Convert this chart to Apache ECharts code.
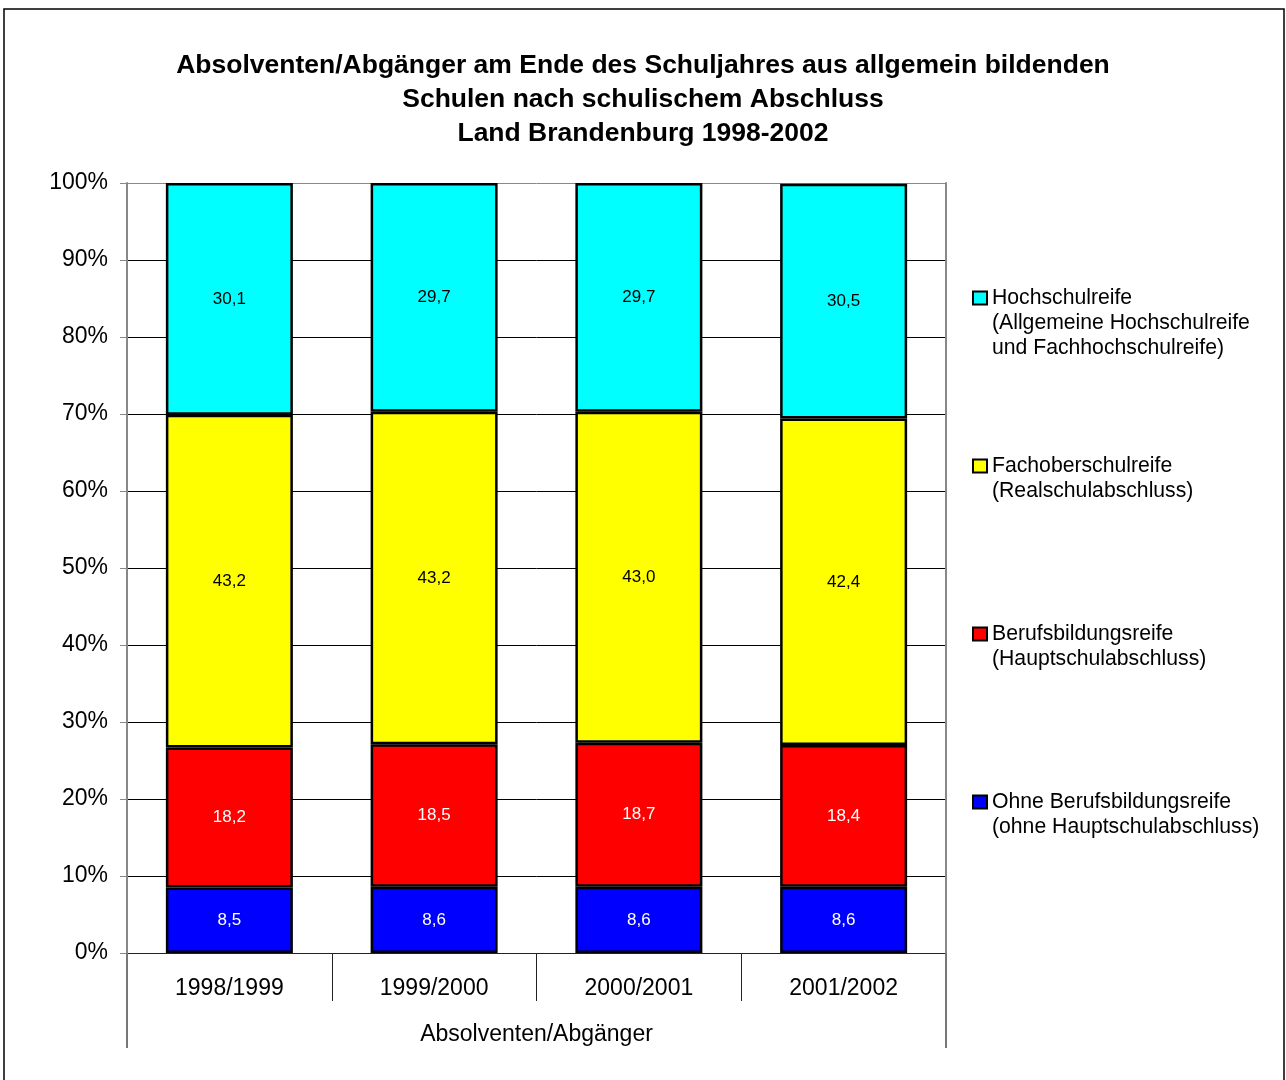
<!DOCTYPE html>
<html>
<head>
<meta charset="utf-8">
<script src="https://cdn.jsdelivr.net/npm/echarts@6/dist/echarts.min.js"></script>
<style>
  html, body { margin: 0; padding: 0; background: #fff; }
  #main { width: 1286px; height: 1080px; }
</style>
</head>
<body>
<div id="main"></div>
<script>
  var years = ['1998/1999', '1999/2000', '2000/2001', '2001/2002']
  var groupLabel = ['Absolventen/Abgänger']
  var ohne = [8.5, 8.6, 8.6, 8.6]
  var berufs = [18.2, 18.5, 18.7, 18.4]
  var fachober = [43.2, 43.2, 43.0, 42.4]
  var hoch = [30.1, 29.7, 29.7, 30.5]

  var legendText = {
    'Hochschulreife': 'Hochschulreife\n(Allgemeine Hochschulreife\nund Fachhochschulreife)',
    'Fachoberschulreife': 'Fachoberschulreife\n(Realschulabschluss)',
    'Berufsbildungsreife': 'Berufsbildungsreife\n(Hauptschulabschluss)',
    'Ohne Berufsbildungsreife': 'Ohne Berufsbildungsreife\n(ohne Hauptschulabschluss)'
  }
  var font = 'Liberation Sans, Arial, sans-serif'

  function fmt (p) {
    return p.value.toFixed(1).replace('.', ',')
  }

  function bar (name, data, color, labelColor) {
    return {
      name: name,
      type: 'bar',
      stack: 'all',
      barWidth: 127,
      data: data,
      itemStyle: { color: color, borderColor: '#000', borderWidth: 2.5 },
      label: {
        show: true,
        position: 'inside',
        formatter: fmt,
        color: labelColor,
        fontFamily: font,
        fontSize: 17
      }
    }
  }

  // one legend per entry; blank lines on top keep the icon on the first text line
  function legend (name, lines, top) {
    return {
      data: [{ name: name, icon: 'rect' }],
      left: 972,
      top: top,
      padding: 0,
      itemWidth: 14,
      itemHeight: 13,
      itemGap: 5,
      selectedMode: false,
      itemStyle: { borderWidth: 2 },
      formatter: function (n) {
        var pad = ''
        for (var j = 1; j < lines; j++) pad += ' \n'
        return pad + legendText[n]
      },
      textStyle: {
        fontFamily: font,
        fontSize: 21.2,
        lineHeight: 25,
        color: '#000'
      }
    }
  }

  var gridLineColors = []
  for (var i = 0; i < 10; i++) gridLineColors.push('#000')
  gridLineColors.push('#888')

  var option = {
    backgroundColor: '#fff',
    animation: false,
    title: {
      text: 'Absolventen/Abgänger am Ende des Schuljahres aus allgemein bildenden\nSchulen nach schulischem Abschluss\nLand Brandenburg 1998-2002',
      left: 'center',
      top: 44,
      textStyle: {
        fontFamily: font,
        fontSize: 26.5,
        fontWeight: 'bold',
        lineHeight: 34,
        color: '#000',
        align: 'center'
      }
    },
    legend: [
      legend('Hochschulreife', 3, 298 - 62.5),
      legend('Fachoberschulreife', 2, 466 - 37.5),
      legend('Berufsbildungsreife', 2, 634 - 37.5),
      legend('Ohne Berufsbildungsreife', 2, 802 - 37.5)
    ],
    grid: { left: 127, right: 340, top: 183, bottom: 127 },
    xAxis: [
      {
        type: 'category',
        position: 'bottom',
        data: years,
        axisLine: { lineStyle: { color: '#222', width: 1 } },
        axisTick: { show: true, length: 48, interval: 0, lineStyle: { color: '#222', width: 1 } },
        axisLabel: { margin: 24, color: '#000', fontFamily: font, fontSize: 23 }
      },
      {
        type: 'category',
        position: 'bottom',
        data: groupLabel,
        axisLine: { show: false },
        axisTick: { show: true, length: 95, lineStyle: { color: '#777', width: 2 } },
        axisLabel: { margin: 70, color: '#000', fontFamily: font, fontSize: 23 }
      }
    ],
    yAxis: [
      {
        type: 'value',
        min: 0,
        max: 100,
        interval: 10,
        axisLine: { show: true, lineStyle: { color: '#888', width: 2 } },
        axisTick: { show: true, length: 7, lineStyle: { color: '#888', width: 1 } },
        axisLabel: { formatter: '{value}%', margin: 19, padding: [4, 0, 0, 0], color: '#000', fontFamily: font, fontSize: 23 },
        splitLine: { show: true, lineStyle: { color: gridLineColors, width: 1 } }
      },
      {
        type: 'value',
        position: 'right',
        min: 0,
        max: 100,
        interval: 10,
        axisLine: { show: true, lineStyle: { color: '#888', width: 2 } },
        axisTick: { show: false },
        axisLabel: { show: false },
        splitLine: { show: false }
      }
    ],
    series: [
      bar('Ohne Berufsbildungsreife', ohne, '#0000ff', '#fff'),
      bar('Berufsbildungsreife', berufs, '#ff0000', '#fff'),
      bar('Fachoberschulreife', fachober, '#ffff00', '#000'),
      bar('Hochschulreife', hoch, '#00ffff', '#000')
    ],
    graphic: [
      {
        type: 'rect',
        shape: { x: 4, y: 9, width: 1280, height: 1090 },
        style: { fill: 'none', stroke: '#000', lineWidth: 1.5 },
        silent: true,
        z: 100
      }
    ]
  }

  var myChart = echarts.init(document.getElementById('main'))
  myChart.setOption(option)
</script>
</body>
</html>
